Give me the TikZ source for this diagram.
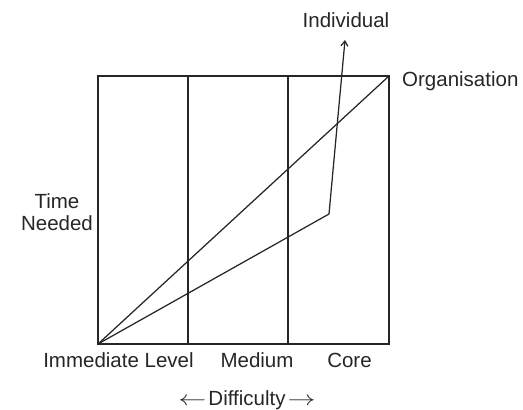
\documentclass[tikz,border=0pt]{standalone}
\usepackage{fontspec}
\setmainfont{Liberation Sans}
\usetikzlibrary{arrows.meta}
\begin{document}
\begin{tikzpicture}[x=1pt,y=1pt,
  line/.style={line width=1.25pt,draw=black!85},
  lbl/.style={inner sep=0pt,font=\fontsize{20.5}{24}\selectfont,text=black!85}]
\useasboundingbox (0,0) rectangle (523,-410);
\coordinate (O) at (98,-344);
\coordinate (TR) at (389,-76);
\coordinate (TL) at (98,-76);
\coordinate (BR) at (389,-344);
\coordinate (v1t) at (188,-76);
\coordinate (v1b) at (188,-344);
\coordinate (v2t) at (288,-76);
\coordinate (v2b) at (288,-344);
\coordinate (K) at (329,-214);
\coordinate (tip) at (345,-40);
\draw[line] (TL) rectangle (BR);
\draw[line] (v1t) -- (v1b);
\draw[line] (v2t) -- (v2b);
\draw[line] (O) -- (TR);
\draw[line,-{Straight Barb[length=5pt,width=7pt]}] (O) -- (K) -- (tip);
\node[lbl,anchor=base] (ind) at (346,-27) {Individual};
\node[lbl,anchor=base west] (org) at (402,-86) {Organisation};
\node[lbl,anchor=base] (time) at (57,-208) {Time};
\node[lbl,anchor=base] (need) at (57,-230) {Needed};
\node[lbl,anchor=base] (imm) at (118.5,-367) {Immediate Level};
\node[lbl,anchor=base] (med) at (257,-367) {Medium};
\node[lbl,anchor=base] (core) at (349.5,-367) {Core};
\node[lbl,anchor=base] (dif) at (247,-405) {\scalebox{1.35}[1]{$\leftarrow$}\kern2pt Difficulty\kern2pt\scalebox{1.35}[1]{$\rightarrow$}};
\end{tikzpicture}
\end{document}
